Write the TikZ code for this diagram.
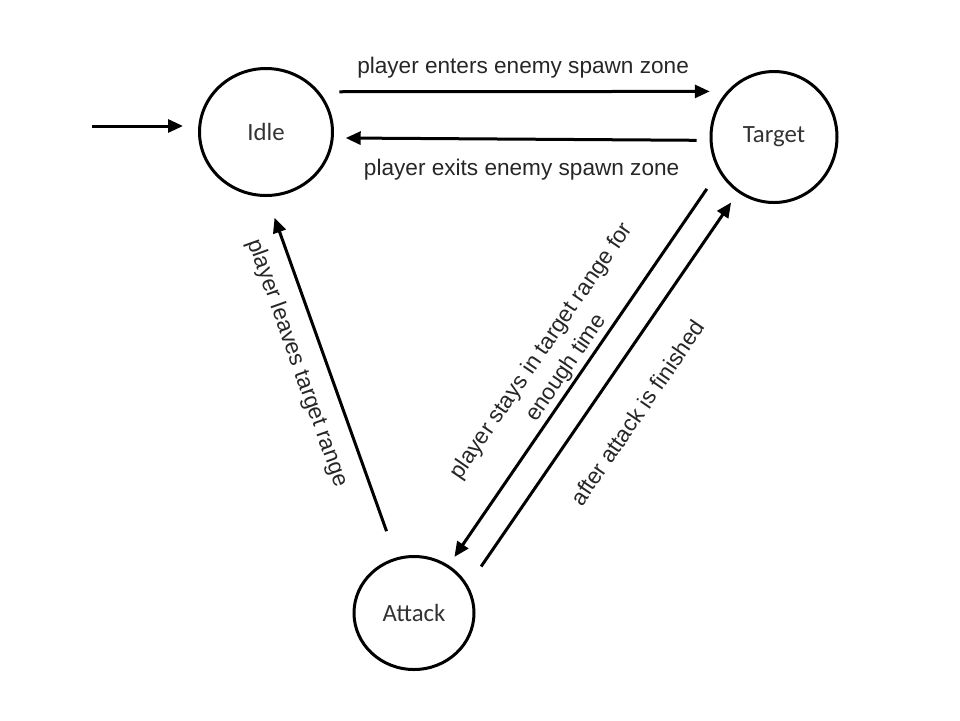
\documentclass[tikz,border=0pt]{standalone}
\usepackage{fontspec}
\setmainfont{Liberation Sans}
\newfontfamily\statefont{Carlito}
\usetikzlibrary{arrows.meta,shapes.geometric}

\begin{document}
\begin{tikzpicture}[x=0.5pt, y=0.5pt, line width=1.5pt,
  >={Triangle[length=7.5pt,width=6.5pt]},
  state/.style={draw, ellipse, inner sep=0pt, font=\statefont\fontsize{12.4}{14}\selectfont, text=black!80},
  trans/.style={font=\fontsize{11.3}{15}\selectfont, text=black!85}]
\useasboundingbox (0,0) rectangle (960,-720);
\node[state, minimum width=66.5pt, minimum height=63.5pt] (Idle) at (266,-132) {Idle};
\node[state, minimum width=63pt, minimum height=65.5pt] (Target) at (774,-137) {Target};
\node[state, minimum width=60pt, minimum height=56.5pt] (Attack) at (414,-613) {Attack};
\coordinate (start) at (92,-126);
\draw[->, shorten >=7.5pt] (start) -- (start -| Idle.west);
\draw[->, shorten <=10pt, shorten >=8.5pt] (Idle.37) -- (Target.136) node[trans, midway, above, inner sep=6pt] {player enters enemy spawn zone};
\draw[->, shorten <=6.5pt, shorten >=6pt] (Target.183) -- (Idle.355) node[trans, midway, below, inner sep=9pt] {player exits enemy spawn zone};
\draw[->, shorten <=14pt, shorten >=11pt] (Attack.108) -- (Idle.271) node[trans, pos=0.565, sloped, below, inner sep=7.7pt] {player leaves target range};
\draw[->, shorten <=10.5pt, shorten >=5pt] (Target.212) -- (Attack.54) node[trans, pos=0.52, sloped, above, inner sep=1pt, align=center] {player stays in target range for\\enough time};
\draw[->, shorten <=11.5pt, shorten >=6pt] (Attack.27) -- (Target.237) node[trans, pos=0.5, sloped, below, inner sep=16pt] {after attack is finished};
\end{tikzpicture}
\end{document}
